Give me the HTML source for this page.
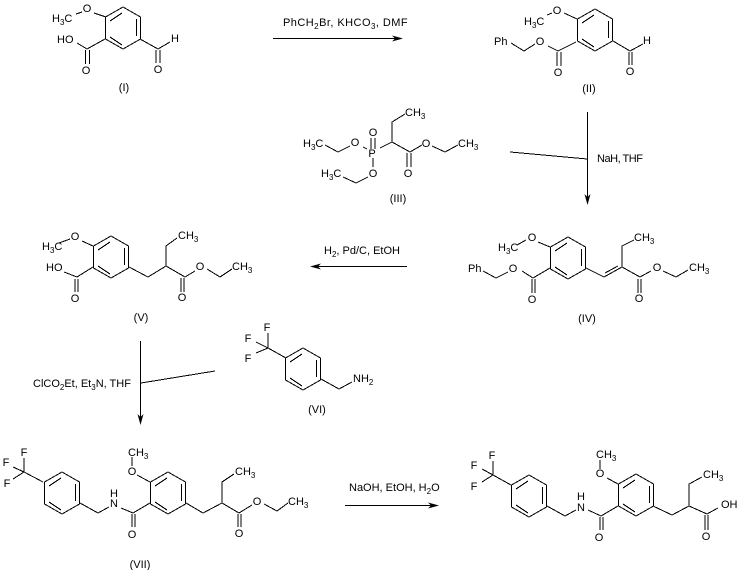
<!DOCTYPE html>
<html>
<head>
<meta charset="utf-8">
<style>
html,body{margin:0;padding:0;background:#fff;width:740px;height:570px;overflow:hidden}
svg{display:block}
path,line{stroke:#000;stroke-width:1;fill:none;shape-rendering:crispEdges}
.h{fill:#000;stroke:none;shape-rendering:auto}
text{font-family:"Liberation Sans",sans-serif;font-size:11px;fill:#000}
.m{text-anchor:middle}
.s{font-size:8px}
</style>
</head>
<body>
<svg width="740" height="570" viewBox="0 0 740 570" xmlns="http://www.w3.org/2000/svg">
<defs>
<g id="r"><path d="M-17.5 10L0 0L17.5 10V32L0 42L-17.5 32ZM-13 14L-1 6M13.5 12V29M-13 30L-1 38"/></g>
</defs>

<!-- I -->
<use href="#r" x="123" y="7"/>
<path d="M94 13L106 17M76 14L82 12M105 39L87 49L77 43M85.5 50V64M89.5 50V64M140 39L158 49L170 42M156 50V63M160 50V63"/>
<text x="87" y="12" class="m">O</text>
<text x="52" y="22">H<tspan class="s" dy="3">3</tspan><tspan dy="-3">C</tspan></text>
<text x="57" y="43">HO</text>
<text x="86" y="74" class="m">O</text>
<text x="158" y="73" class="m">O</text>
<text x="175" y="42" class="m">H</text>
<text x="124" y="91" class="m">(I)</text>

<!-- arrow 1 -->
<path d="M273 38.5H400"/>
<path class="h" d="M403 38.5L392 35.5L395 38.5L392 41.5Z"/>
<text x="283" y="26" letter-spacing="0.45">PhCH<tspan class="s" dy="3">2</tspan><tspan dy="-3">Br, KHCO</tspan><tspan class="s" dy="3">3</tspan><tspan dy="-3">, DMF</tspan></text>

<!-- II -->
<use href="#r" x="595" y="9"/>
<path d="M564 13L577 19M547 15L552 13M576 42L558 51L548 46M535 44L524 51L511 43M557 52V66M561 52V66M613 41L630 51L643 44M629 52V65M632 52V65"/>
<text x="557" y="14" class="m">O</text>
<text x="524" y="25">H<tspan class="s" dy="3">3</tspan><tspan dy="-3">C</tspan></text>
<text x="540" y="45" class="m">O</text>
<text x="494" y="45">Ph</text>
<text x="558" y="76" class="m">O</text>
<text x="630" y="75" class="m">O</text>
<text x="647" y="44" class="m">H</text>
<text x="589" y="92" class="m">(II)</text>

<!-- arrow 2 -->
<path d="M587.5 112V202M510 152L587 159"/>
<path class="h" d="M587.5 205L584.5 194L587.5 197L590.5 194Z"/>
<text x="597" y="162" textLength="46">NaH, THF</text>

<!-- III -->
<path d="M405 114L392 122V142L380 148M392 142L410 152L422 145M432 146L445 152L458 145M407 153V167M411 153V167M371 138V149M375 138V149M363 147L367 149M350 146L338 152L325 145M373 158V167M368 177L356 183L343 177"/>
<text x="405" y="116">CH<tspan class="s" dy="3">3</tspan></text>
<text x="373" y="136" class="m">O</text>
<text x="355" y="146" class="m">O</text>
<text x="303" y="147">H<tspan class="s" dy="3">3</tspan><tspan dy="-3">C</tspan></text>
<text x="372" y="157" class="m">P</text>
<text x="426" y="147" class="m">O</text>
<text x="458" y="147">CH<tspan class="s" dy="3">3</tspan></text>
<text x="373" y="177" class="m">O</text>
<text x="321" y="177">H<tspan class="s" dy="3">3</tspan><tspan dy="-3">C</tspan></text>
<text x="408" y="177" class="m">O</text>
<text x="398" y="202" class="m">(III)</text>

<!-- IV -->
<use href="#r" x="568" y="237"/>
<path d="M538 242L550 247M517 245L526 240M550 268L533 278L522 271M508 272L496 278L483 271M532 279V293M535 279V293M586 268L604 277L622 267M605 273L618 266M622 267V246L634 240M622 267L640 277L651 271M663 271L676 277L688 270M638 279V293M641 279V293"/>
<text x="532" y="241" class="m">O</text>
<text x="498" y="251">H<tspan class="s" dy="3">3</tspan><tspan dy="-3">C</tspan></text>
<text x="513" y="272" class="m">O</text>
<text x="468" y="272">Ph</text>
<text x="532" y="303" class="m">O</text>
<text x="634" y="241">CH<tspan class="s" dy="3">3</tspan></text>
<text x="657" y="271" class="m">O</text>
<text x="689" y="271">CH<tspan class="s" dy="3">3</tspan></text>
<text x="639" y="302" class="m">O</text>
<text x="587" y="322" class="m">(IV)</text>

<!-- arrow 3 -->
<path d="M313 266.5H407"/>
<path class="h" d="M310 266.5L321 263.5L318 266.5L321 269.5Z"/>
<text x="324" y="254">H<tspan class="s" dy="3">2</tspan><tspan dy="-3">, Pd/C, EtOH</tspan></text>

<!-- V -->
<use href="#r" x="111" y="236"/>
<path d="M82 241L93 246M59 243L70 239M93 267L77 277L64 272M75 279V292M78 279V292M129 267L148 277L166 266V246L177 238M166 266L185 277L195 271M207 269L220 277L232 269M181 278V292M184 278V292"/>
<text x="75" y="240" class="m">O</text>
<text x="42" y="250">H<tspan class="s" dy="3">3</tspan><tspan dy="-3">C</tspan></text>
<text x="46" y="271">HO</text>
<text x="75" y="302" class="m">O</text>
<text x="178" y="239">CH<tspan class="s" dy="3">3</tspan></text>
<text x="200" y="270" class="m">O</text>
<text x="232" y="270">CH<tspan class="s" dy="3">3</tspan></text>
<text x="182" y="301" class="m">O</text>
<text x="141" y="321" class="m">(V)</text>

<!-- arrow 4 -->
<path d="M140.5 341V422M141 383L215 371"/>
<path class="h" d="M140.5 425L137.5 414L140.5 417L143.5 414Z"/>
<text x="33" y="387">ClCO<tspan class="s" dy="3">2</tspan><tspan dy="-3">Et, Et</tspan><tspan class="s" dy="3">3</tspan><tspan dy="-3">N, THF</tspan></text>

<!-- VI -->
<use href="#r" x="303" y="348"/>
<path d="M286 358L268 348V333M256 342L268 348L256 353M321 379L339 389L352 382"/>
<text x="267" y="331" class="m">F</text>
<text x="248" y="342" class="m">F</text>
<text x="248" y="362" class="m">F</text>
<text x="353" y="382">NH<tspan class="s" dy="3">2</tspan></text>
<text x="317" y="413" class="m">(VI)</text>

<!-- VII -->
<use href="#r" x="62" y="472"/>
<use href="#r" x="168" y="472"/>
<path d="M43 482L24 472V458M13 467L24 472L13 479M80 503L98 513L109 507M121 508L133 513L150 503M132 514V527M135 514V527M137 475L150 482M132 457V466M186 503L203 513L222 503V482L234 474M222 503L239 513L252 505M264 504L277 511L288 503M238 514V527M241 514V527"/>
<text x="24" y="456" class="m">F</text>
<text x="6" y="466" class="m">F</text>
<text x="7" y="487" class="m">F</text>
<text x="114" y="497" class="m">H</text>
<text x="114" y="507" class="m">N</text>
<text x="128" y="456">CH<tspan class="s" dy="3">3</tspan></text>
<text x="132" y="475" class="m">O</text>
<text x="132" y="538" class="m">O</text>
<text x="235" y="475">CH<tspan class="s" dy="3">3</tspan></text>
<text x="257" y="505" class="m">O</text>
<text x="288" y="505">CH<tspan class="s" dy="3">3</tspan></text>
<text x="239" y="537" class="m">O</text>
<text x="140" y="568" class="m">(VII)</text>

<!-- arrow 5 -->
<path d="M345 505.5H436"/>
<path class="h" d="M439 505.5L428 502.5L431 505.5L428 508.5Z"/>
<text x="349" y="491">NaOH, EtOH, H<tspan class="s" dy="3">2</tspan><tspan dy="-3">O</tspan></text>

<!-- VIII -->
<use href="#r" x="529" y="475"/>
<use href="#r" x="636" y="474"/>
<path d="M511 485L493 475V461M482 469L493 475L482 482M547 506L565 516L576 510M588 510L601 516L618 506M600 517V530M603 517V530M607 478L618 484M600 460V469M653 506L672 515L689 506V484L702 477M689 506L707 514L718 508M705 515V530M708 515V530"/>
<text x="492" y="459" class="m">F</text>
<text x="474" y="469" class="m">F</text>
<text x="474" y="490" class="m">F</text>
<text x="581" y="500" class="m">H</text>
<text x="581" y="511" class="m">N</text>
<text x="596" y="458">CH<tspan class="s" dy="3">3</tspan></text>
<text x="600" y="477" class="m">O</text>
<text x="599" y="541" class="m">O</text>
<text x="703" y="478">CH<tspan class="s" dy="3">3</tspan></text>
<text x="721" y="508">OH</text>
<text x="706" y="540" class="m">O</text>
</svg>
</body>
</html>
